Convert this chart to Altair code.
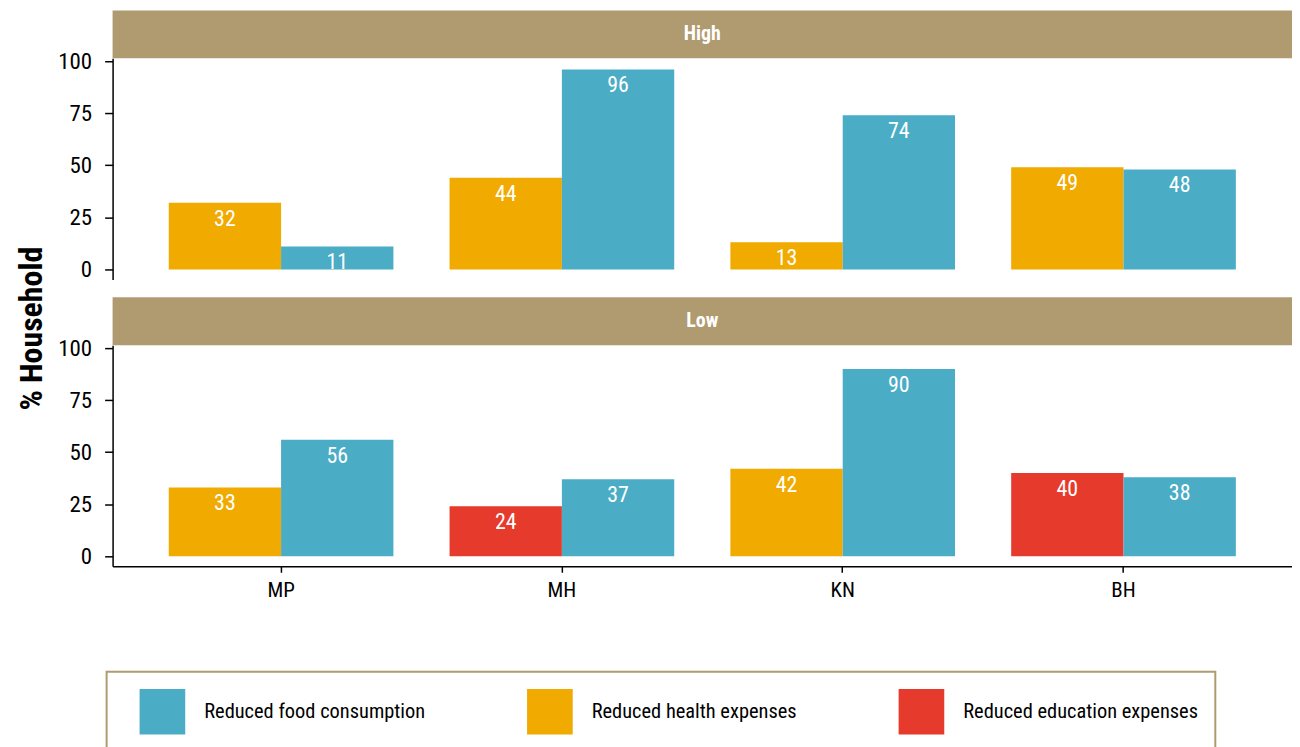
import altair as alt
import pandas as pd

states = ["MP", "MH", "KN", "BH"]
# High panel
high_left_type = ["Reduced health expenses", "Reduced health expenses", "Reduced health expenses", "Reduced health expenses"]
high_left_val = [32, 44, 13, 49]
high_food_val = [11, 96, 74, 48]
# Low panel
low_left_type = ["Reduced health expenses", "Reduced education expenses", "Reduced health expenses", "Reduced education expenses"]
low_left_val = [33, 24, 42, 40]
low_food_val = [56, 37, 90, 38]

types = ["Reduced food consumption", "Reduced health expenses", "Reduced education expenses"]
colors = ["#4BACC6", "#F0AA00", "#E63A2C"]

FONT = "Roboto Condensed, Liberation Sans Narrow, DejaVu Sans Condensed, sans-serif"
W, H = 1184, 222


def make_df(left_types, left_vals, food_vals):
    rows = []
    for s, t, lv, fv in zip(states, left_types, left_vals, food_vals):
        rows.append({"State": s, "slot": "a", "Type": t, "value": lv})
        rows.append({"State": s, "slot": "b", "Type": "Reduced food consumption", "value": fv})
    return pd.DataFrame(rows)


def panel(df, label, show_x, show_title):
    xscale = alt.Scale(domain=states, paddingInner=0.2, paddingOuter=0.2)
    if show_x:
        xaxis = alt.Axis(title=None, labelAngle=0, labelFontSize=21, labelColor="black",
                         domainColor="black", domainWidth=1.5, tickColor="black",
                         tickWidth=1.5, tickSize=6, labelPadding=7)
    else:
        xaxis = None
    yaxis_kwargs = dict(values=[0, 25, 50, 75, 100], grid=False, labelFontSize=23,
                        labelColor="black", domainColor="black", domainWidth=1.5,
                        tickColor="black", tickWidth=1.5, tickSize=8, labelPadding=13)
    if show_title:
        yaxis = alt.Axis(title="% Household", titleX=-81, titleY=271, titleAngle=270,
                         titleAlign="center", titleBaseline="middle", titleFontSize=32,
                         titleFontWeight="bold", titleColor="black", **yaxis_kwargs)
    else:
        yaxis = alt.Axis(title=None, **yaxis_kwargs)

    base = alt.Chart(df).encode(
        x=alt.X("State:N", scale=xscale, axis=xaxis, sort=states),
        xOffset=alt.XOffset("slot:N", scale=alt.Scale(paddingInner=0, paddingOuter=0)),
        y=alt.Y("value:Q", scale=alt.Scale(domain=[-4.8, 101.4], nice=False, zero=False), axis=yaxis),
    )
    bars = base.mark_bar().encode(
        y2=alt.datum(0),
        color=alt.Color("Type:N", scale=alt.Scale(domain=types, range=colors),
                        legend=alt.Legend(
                            title=None,
                            orient="none", legendX=-6, legendY=616, direction="horizontal",
                            columns=3, columnPadding=86, symbolType="square",
                            symbolOffset=16,
                            symbolSize=2100, symbolStrokeWidth=0, labelFontSize=20.5,
                            labelColor="black", labelOffset=19, padding=17,
                            strokeColor="#B09A70", fillColor="white",
                            labelLimit=400)),
    )
    labels = base.mark_text(baseline="top", dy=6, color="white", fontSize=22).encode(
        text=alt.Text("value:Q"))

    hdf = pd.DataFrame({"label": [label]})
    hrect = alt.Chart(hdf).mark_rect(color="#B09A70").encode(
        x=alt.value(0), x2=alt.value(W), y=alt.value(-48), y2=alt.value(0))
    htext = alt.Chart(hdf).mark_text(color="white", fontSize=20, fontWeight="bold",
                                     baseline="middle", align="center").encode(
        x=alt.value(W / 2), y=alt.value(-24), text="label:N")
    return alt.layer(hrect, htext, bars, labels).properties(width=W, height=H)


top = panel(make_df(high_left_type, high_left_val, high_food_val), "High", False, True)
bottom = panel(make_df(low_left_type, low_left_val, low_food_val), "Low", True, False)

chart = alt.vconcat(top, bottom, spacing=66).properties(
    bounds="flush",
    padding={"left": 8, "top": 1, "right": 0, "bottom": 0},
).configure(font=FONT).configure_view(stroke=None).configure_legend(strokeWidth=2)

chart.save("out.html", embed_options={"renderer": "svg", "actions": False})
